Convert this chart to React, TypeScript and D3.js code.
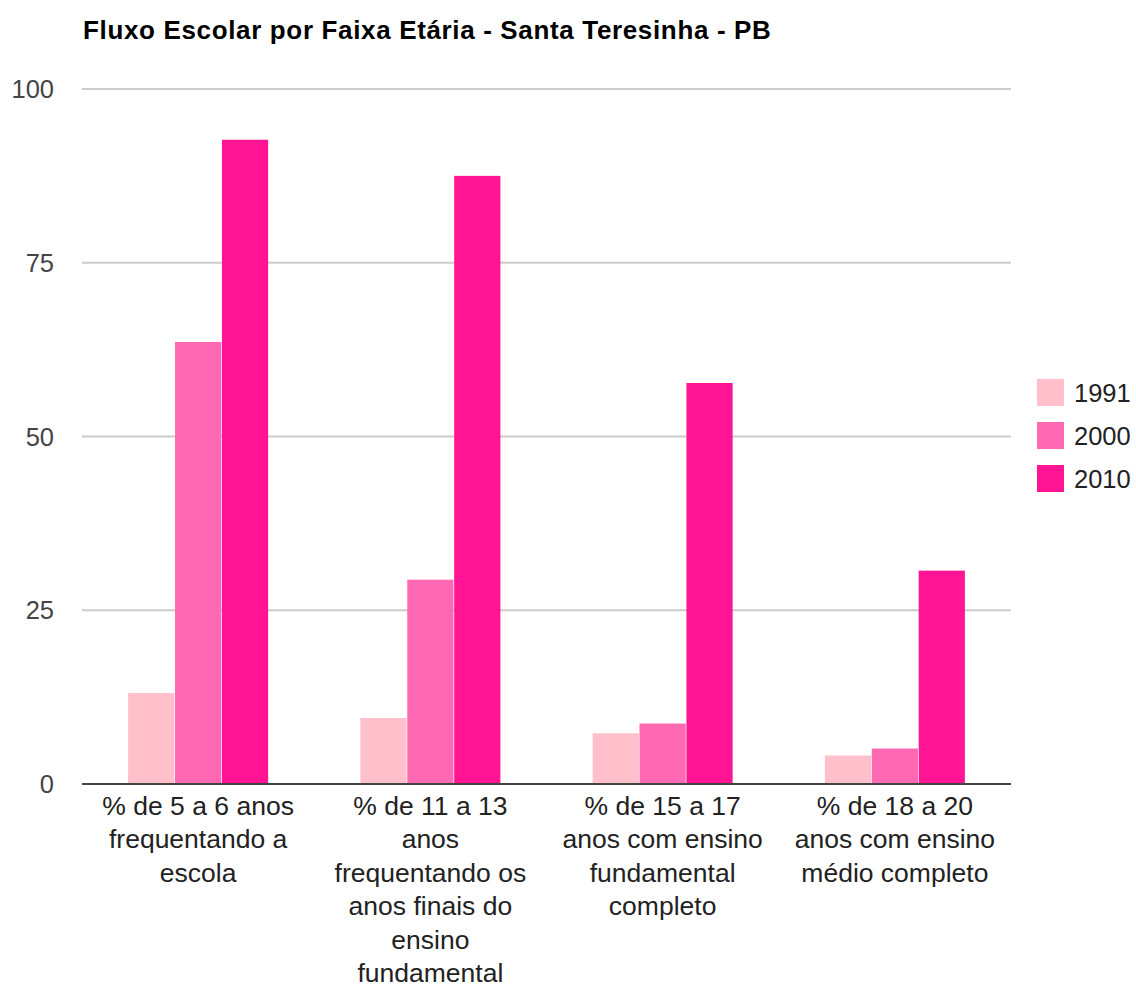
import React from "react"
import * as d3 from "d3"

// Chart data
const categories = ["g1", "g2", "g3", "g4"]
const categoryLines: string[][] = [
  ["% de 5 a 6 anos", "frequentando a", "escola"],
  ["% de 11 a 13", "anos", "frequentando os", "anos finais do", "ensino", "fundamental"],
  ["% de 15 a 17", "anos com ensino", "fundamental", "completo"],
  ["% de 18 a 20", "anos com ensino", "médio completo"],
]
const seriesNames = ["1991", "2000", "2010"]
const values1991 = [13.1, 9.5, 7.3, 4.1]
const values2000 = [63.6, 29.4, 8.7, 5.1]
const values2010 = [92.7, 87.5, 57.7, 30.7]
const yTicks = [0, 25, 50, 75, 100]
const colors = ["#ffc0cb", "#ff69b4", "#ff1493"]

const title = "Fluxo Escolar por Faixa Etária - Santa Teresinha - PB"

const WIDTH = 1136
const HEIGHT = 988
const margin = { top: 89, left: 82, right: 125, bottom: 204 }
const font = "Arial, 'Liberation Sans', Helvetica, sans-serif"

const App: React.FC = () => {
  const series = [values1991, values2000, values2010]
  const innerW = WIDTH - margin.left - margin.right
  const innerH = HEIGHT - margin.top - margin.bottom

  // group bands, then one sub-band per year
  const x0 = d3.scaleBand<string>().domain(categories).range([0, innerW]).paddingInner(0.397).paddingOuter(0.1985)
  const x1 = d3.scaleBand<string>().domain(seriesNames).range([0, x0.bandwidth()]).paddingInner(0.015)
  const y = d3.scaleLinear().domain([0, 100]).range([innerH, 0])

  return (
    <div style={{ position: "absolute", left: 0, top: 0 }}>
      <svg width={WIDTH} height={HEIGHT} style={{ display: "block", background: "#fff" }} fontFamily={font}>
        <text x={83} y={39} fontSize={26} fontWeight="bold" fill="#000" letterSpacing={0.65}>
          {title}
        </text>
        <g transform={`translate(${margin.left},${margin.top})`}>
          {/* gridlines and tick labels */}
          {yTicks.map((t) => (
            <g key={t}>
              {t !== 0 && <line x1={0} x2={innerW} y1={y(t)} y2={y(t)} stroke="#cccccc" strokeWidth={2} />}
              <text x={-28} y={y(t)} dy="0.36em" textAnchor="end" fontSize={25.5} fill="#444">
                {t}
              </text>
            </g>
          ))}

          {/* bars */}
          {categories.map((c, i) => (
            <g key={c} transform={`translate(${x0(c)},0)`}>
              {seriesNames.map((s, j) => (
                <rect
                  key={s}
                  x={x1(s)}
                  y={y(series[j][i])}
                  width={x1.bandwidth()}
                  height={innerH - y(series[j][i])}
                  fill={colors[j]}
                />
              ))}
            </g>
          ))}

          {/* baseline */}
          <line x1={0} x2={innerW} y1={y(0)} y2={y(0)} stroke="#444" strokeWidth={2} />

          {/* category labels */}
          {categories.map((c, i) => (
            <text
              key={c}
              x={(x0(c) ?? 0) + x0.bandwidth() / 2}
              y={innerH + 31}
              textAnchor="middle"
              fontSize={26.5}
              fill="#222"
            >
              {categoryLines[i].map((line, k) => (
                <tspan key={k} x={(x0(c) ?? 0) + x0.bandwidth() / 2} dy={k === 0 ? 0 : 33.4}>
                  {line}
                </tspan>
              ))}
            </text>
          ))}
        </g>

        {/* legend */}
        <g transform="translate(1037,379)">
          {seriesNames.map((s, j) => (
            <g key={s} transform={`translate(0,${j * 43})`}>
              <rect width={27} height={27} fill={colors[j]} />
              <text x={37} y={13.5} dy="0.36em" fontSize={25.5} fill="#222">
                {s}
              </text>
            </g>
          ))}
        </g>
      </svg>
    </div>
  )
}

export default App
